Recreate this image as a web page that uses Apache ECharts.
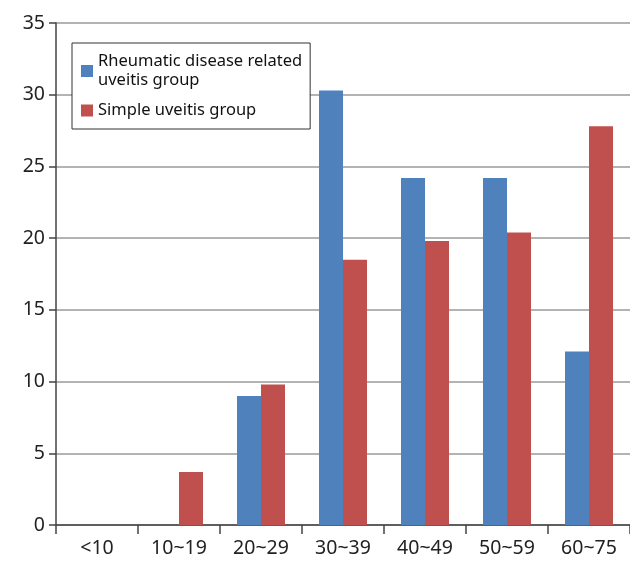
<!DOCTYPE html>
<html>
<head>
<meta charset="utf-8">
<script src="https://cdn.jsdelivr.net/npm/echarts@6/dist/echarts.min.js"></script>
<style>
html,body{margin:0;padding:0;background:#fff;}
#c{width:630px;height:561px;}
</style>
</head>
<body>
<div id="c"></div>
<script>
const categories = ['<10', '10~19', '20~29', '30~39', '40~49', '50~59', '60~75'];
const rheumaticValues = [0, 0, 9.0, 30.3, 24.2, 24.2, 12.1];
const simpleValues = [0, 3.7, 9.8, 18.5, 19.8, 20.4, 27.8];
const seriesNames = ['Rheumatic disease related\nuveitis group', 'Simple uveitis group'];
const yTicks = { min: 0, max: 35, interval: 5 };

const chart = echarts.init(document.getElementById('c'));
const font = 'Noto Sans';
chart.setOption({
  animation: false,
  backgroundColor: '#fff',
  grid: { left: 56, right: -4, top: 23, bottom: 36, containLabel: false },
  legend: {
    orient: 'vertical',
    left: 72, top: 43,
    width: 240,
    padding: [9, 8, 9, 9],
    borderColor: '#333', borderWidth: 1,
    backgroundColor: '#fff',
    itemWidth: 12, itemHeight: 12, itemGap: 11,
    icon: 'rect',
    textStyle: { fontFamily: font, fontSize: 16.5, color: '#111', lineHeight: 19 },
    data: seriesNames
  },
  xAxis: {
    type: 'category',
    data: categories,
    axisLine: { lineStyle: { color: '#444', width: 1.5 } },
    axisTick: { show: true, length: 9, lineStyle: { color: '#444', width: 1.5 } },
    axisLabel: { fontFamily: font, fontSize: 19.5, color: '#222', margin: 13, interval: 0 }
  },
  yAxis: {
    type: 'value',
    min: yTicks.min, max: yTicks.max, interval: yTicks.interval,
    axisLine: { show: true, lineStyle: { color: '#444', width: 1.5 } },
    axisTick: { show: true, length: 7, lineStyle: { color: '#444', width: 1.5 } },
    axisLabel: { fontFamily: font, fontSize: 19.5, color: '#222', margin: 11 },
    splitLine: { lineStyle: { color: '#9a9a9a', width: 1.5 } }
  },
  series: [
    { name: seriesNames[0], type: 'bar', data: rheumaticValues, barWidth: 24, barGap: '0%',
      itemStyle: { color: '#4F81BD' } },
    { name: seriesNames[1], type: 'bar', data: simpleValues, barWidth: 24, barGap: '0%',
      itemStyle: { color: '#C0504D' } }
  ]
});
</script>
</body>
</html>
